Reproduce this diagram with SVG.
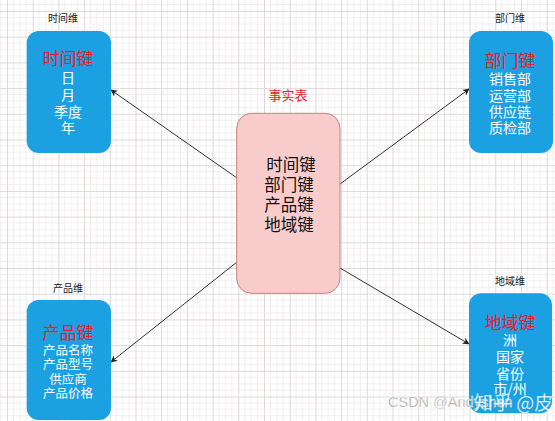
<svg xmlns="http://www.w3.org/2000/svg" width="555" height="421" viewBox="0 0 555 421">
<defs>
<pattern id="grid" patternUnits="userSpaceOnUse" x="7" y="11" width="25.7" height="25.7">
<rect width="25.7" height="25.7" fill="#ffffff"/>
<path d="M6.42 0V25.7M12.85 0V25.7M19.27 0V25.7M0 6.42H25.7M0 12.85H25.7M0 19.27H25.7" stroke="#ece8e8" stroke-width="0.7" fill="none"/>
<path d="M0.4 0V25.7M0 0.4H25.7" stroke="#d8d0d0" stroke-width="0.9" fill="none"/>
</pattern>
<marker id="arr" viewBox="0 0 10 10" refX="9" refY="5" markerWidth="7" markerHeight="7" markerUnits="userSpaceOnUse" orient="auto">
<path d="M0 0L10 5L0 10L3 5Z" fill="#222"/>
</marker>
</defs>
<style>
.cjk{font-family:"Noto Sans CJK SC","Noto Sans",sans-serif;text-anchor:middle}
.dim{fill:#1ba1e2}
.key{fill:#e3222b;font-size:17px}
.item{fill:#ffffff;font-size:14px}
.small{fill:#ffffff;font-size:12.5px}
.lbl{fill:#222;font-size:10px}
.fact{fill:#111;font-size:16.5px}
.conn{stroke:#333;stroke-width:1;fill:none;marker-end:url(#arr)}
</style>
<rect width="555" height="421" fill="url(#grid)"/>
<g id="connectors">
<line class="conn" x1="237" y1="178" x2="111" y2="90"/>
<line class="conn" x1="340" y1="184" x2="469" y2="89"/>
<line class="conn" x1="237" y1="262" x2="111" y2="362"/>
<line class="conn" x1="340" y1="268" x2="469" y2="344"/>
</g>
<g id="fact" class="cjk">
<text class="fact" x="288" y="100" style="fill:#e3222b;font-size:13px">事实表</text>
<rect x="236.7" y="113.3" width="103.3" height="180" rx="15" fill="#f9cccc" stroke="#c98080" stroke-width="1"/>
<text class="fact" x="291" y="171">时间键</text>
<text class="fact" x="289" y="191">部门键</text>
<text class="fact" x="289" y="211">产品键</text>
<text class="fact" x="289" y="231">地域键</text>
</g>
<g id="time" class="cjk">
<text class="lbl" x="63" y="22">时间维</text>
<rect class="dim" x="26.7" y="31" width="84.3" height="122" rx="12"/>
<text class="key" x="68" y="64.5">时间键</text>
<text class="item" x="68" y="83">日</text>
<text class="item" x="68" y="100">月</text>
<text class="item" x="68" y="116.5">季度</text>
<text class="item" x="68" y="133">年</text>
</g>
<g id="dept" class="cjk">
<text class="lbl" x="510" y="22">部门维</text>
<rect class="dim" x="469" y="31" width="84" height="122" rx="12"/>
<text class="key" x="510" y="66.5">部门键</text>
<text class="item" x="510" y="83.5">销售部</text>
<text class="item" x="510" y="100.5">运营部</text>
<text class="item" x="510" y="116.5">供应链</text>
<text class="item" x="510" y="132.5">质检部</text>
</g>
<g id="product" class="cjk">
<text class="lbl" x="68" y="292">产品维</text>
<rect class="dim" x="26.7" y="300" width="84.3" height="120" rx="12"/>
<text class="key" x="68" y="339">产品键</text>
<text class="small" x="68" y="354.8">产品名称</text>
<text class="small" x="68" y="369.3">产品型号</text>
<text class="small" x="68" y="383.8">供应商</text>
<text class="small" x="68" y="398.3">产品价格</text>
</g>
<g id="region" class="cjk">
<text class="lbl" x="510" y="284.5">地域维</text>
<rect class="dim" x="469" y="293.3" width="83" height="120" rx="12"/>
<text class="key" x="510" y="328.8">地域键</text>
<text class="item" x="510" y="345.3">洲</text>
<text class="item" x="510" y="362">国家</text>
<text class="item" x="510" y="378.6">省份</text>
<text class="item" x="510" y="393.6">市/州</text>
</g>
<g id="watermark">
<text x="388" y="407" style="font-family:'Liberation Sans',sans-serif;font-size:14.5px;fill:#9a9a9a;stroke:#ffffff;stroke-width:0.4">CSDN @Andyshen</text>
<text x="474" y="410" style="font-family:'Noto Sans CJK SC',sans-serif;font-size:19px;fill:#ffffff;fill-opacity:0.8">知乎 @皮</text>
</g>
</svg>
